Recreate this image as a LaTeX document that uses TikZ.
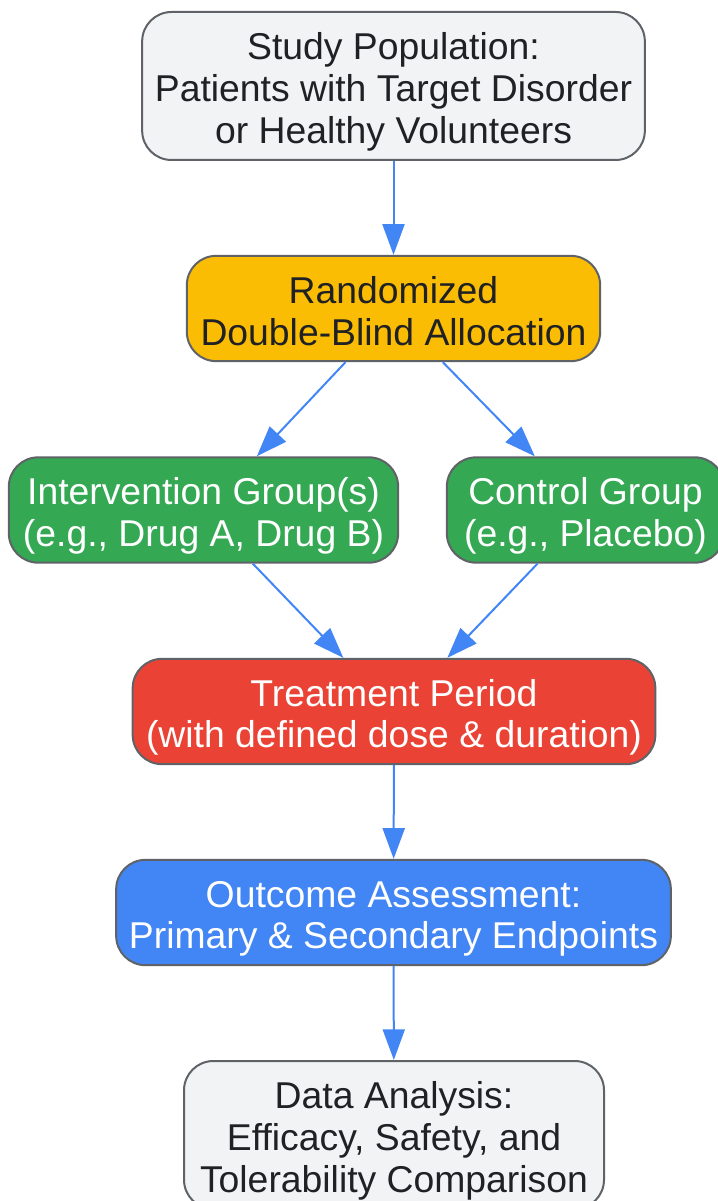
\documentclass[tikz,border=0pt]{standalone}
\usepackage{fontspec}
\setmainfont{Liberation Sans}
\usetikzlibrary{arrows.meta}

\definecolor{boxgray}{HTML}{F1F3F4}
\definecolor{edgegray}{HTML}{5F6368}
\definecolor{gyellow}{HTML}{FBBC04}
\definecolor{ggreen}{HTML}{34A853}
\definecolor{gred}{HTML}{EA4335}
\definecolor{gblue}{HTML}{4285F4}
\definecolor{inkdark}{HTML}{202124}

% fixed top height / bottom depth so every box sets its text alike
\newcommand{\topstrut}{\rule{0pt}{29pt}}
\newcommand{\botstrut}{\rule[-5pt]{0pt}{5pt}}

\tikzset{
  stage/.style={draw=edgegray, line width=1.5pt, rounded corners=22pt, align=center,
    inner sep=0pt, font=\fontsize{28}{31.2}\selectfont},
  flow/.style={draw=gblue, line width=1.5pt, -{Triangle[length=23pt,width=16.5pt]}}
}

\begin{document}
\begin{tikzpicture}[x=0.75pt,y=-0.75pt]
  \useasboundingbox (0,0) rectangle (717,1201);

  \node[stage, fill=boxgray, text=inkdark, minimum width=377pt, minimum height=111pt] (pop) at (393.5,86)
    {\topstrut Study Population:\\Patients with Target Disorder\\or Healthy Volunteers\botstrut};
  \node[stage, fill=gyellow, text=inkdark, minimum width=310pt, minimum height=79pt] (rand) at (393.5,308.5)
    {\topstrut Randomized\\Double-Blind Allocation\botstrut};
  \node[stage, fill=ggreen, text=white, minimum width=292pt, minimum height=79pt] (interv) at (203.5,510)
    {\topstrut Intervention Group(s)\\(e.g., Drug A, Drug B)\botstrut};
  \node[stage, fill=ggreen, text=white, minimum width=208pt, minimum height=79pt] (ctrl) at (585.5,510)
    {\topstrut Control Group\\(e.g., Placebo)\botstrut};
  \node[stage, fill=gred, text=white, minimum width=392pt, minimum height=79pt] (treat) at (394,711.5)
    {\topstrut Treatment Period\\(with defined dose \& duration)\botstrut};
  \node[stage, fill=gblue, text=white, minimum width=416pt, minimum height=79pt] (outc) at (393.5,912.5)
    {\topstrut Outcome Assessment:\\Primary \& Secondary Endpoints\botstrut};
  \node[stage, fill=boxgray, text=inkdark, minimum width=315pt, minimum height=111pt] (anal) at (394,1135)
    {\topstrut Data Analysis:\\Efficacy, Safety, and\\Tolerability Comparison\botstrut};

  % arrows between stages
  \draw[flow] (pop) -- (rand);
  \draw[flow] ([xshift=-36pt]rand.south) -- ([xshift=40pt]interv.north);
  \draw[flow] ([xshift=37pt]rand.south) -- ([xshift=-38pt]ctrl.north);
  \draw[flow] ([xshift=37pt]interv.south) -- ([xshift=-38pt]treat.north);
  \draw[flow] ([xshift=-36pt]ctrl.south) -- ([xshift=40pt]treat.north);
  \draw[flow] (treat) -- (outc);
  \draw[flow] (outc) -- (anal);
\end{tikzpicture}
\end{document}
